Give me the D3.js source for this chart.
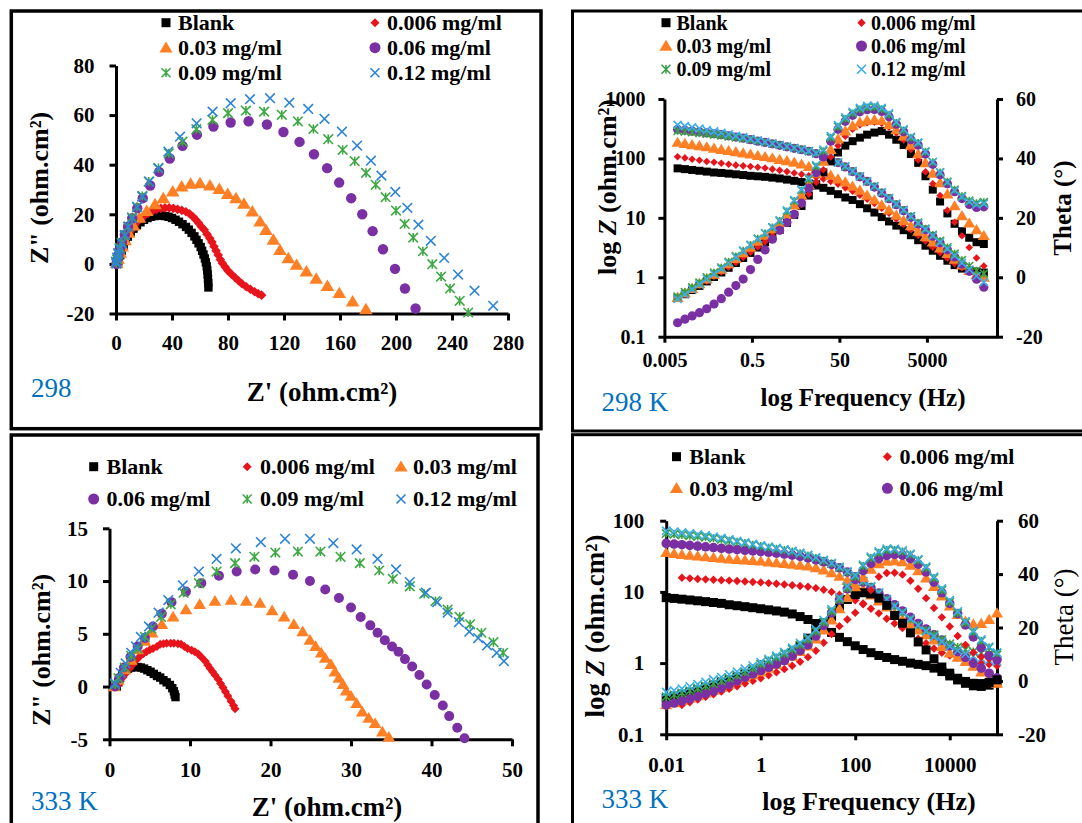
<!DOCTYPE html>
<html>
<head>
<meta charset="utf-8">
<script src="https://cdn.jsdelivr.net/npm/d3@7"></script>
<style>
  html, body { margin: 0; padding: 0; background: #fff; }
  svg { display: block; }
</style>
</head>
<body>
<svg id="fig" width="1082" height="823"></svg>
<script>
// ---------- Series labels ----------
const seriesLabels = ["Blank", "0.006 mg/ml", "0.03 mg/ml", "0.06 mg/ml", "0.09 mg/ml", "0.12 mg/ml"];

// ---------- Nyquist, 298 K : [Z', Z''] ----------
const nyq298Blank = [[1.5,0],[2,1.5],[3,3.5],[4,5.3],[5.5,7.5],[7,9.3],[8.5,11],[10.5,12.7],[12.5,14.2],[15,15.6],[17.5,16.8],[20,17.8],[22.5,18.5],[25,19],[27.5,19.3],[30,19.5],[32.5,19.5],[35,19.3],[37.5,19],[40,18.5],[42.5,17.8],[45,17],[47.5,16],[50,14.9],[52,13.8],[54,12.5],[56,11.1],[57.5,9.7],[59,8.3],[60.5,6.8],[61.5,5.3],[62.5,3.8],[63.5,2.2],[64.2,0.6],[64.8,-1],[65.2,-2.6],[65.5,-4.3],[65.7,-6],[65.9,-7.8],[66,-9.5]];
const nyq298Inh006 = [[1,0.5],[1.5,2],[2.2,3.8],[3,5.5],[4,7],[5,8.5],[6.5,10.2],[8,11.5],[9.5,12.6],[11.5,14],[13.5,15.7],[15.5,17.1],[18,18.3],[20.5,19.5],[23,20.4],[26,21.3],[29,22],[32,22.4],[35,22.6],[38,22.6],[41,22.4],[44,22],[47,21.6],[50,21],[52.5,20.2],[55,19],[57,17.8],[59,16.5],[61,15],[63,13.8],[65,12],[67,10.3],[68.5,8.8],[70,7],[71.5,5.3],[73,3.6],[74.5,1.8],[76,0.3],[78,-1.3],[80,-2.8],[82.5,-4.2],[85,-5.5],[87.5,-6.8],[90,-8],[93,-9.2],[96,-10.2],[99,-11.2],[101.5,-12],[104,-12.6]];
const nyq298Inh03 = [[0.5,0.2],[1.5,2],[3,4.5],[4.5,7],[6.5,9.5],[9,12.5],[12.4,15.5],[16.7,18.6],[21.9,21.3],[27.9,24],[33.8,26.5],[40.5,29.2],[46.9,31.2],[53.3,32.3],[60,32.5],[67.1,31.6],[73.8,30.2],[79.8,28.2],[85.7,26.5],[91.4,24.2],[97.4,21.1],[102.9,17.1],[107.1,13.7],[112.4,9.7],[117.1,5.6],[123.1,2.3],[129,-0.4],[136,-3.1],[143,-6],[151,-8.9],[159.5,-11.8],[169,-15.2],[178.5,-18.3]];
const nyq298Inh06 = [[0.3,0],[0.8,1.5],[1.6,3.5],[2.8,6],[4.3,8.8],[6.3,11.8],[8.6,15],[11.6,18.4],[15.2,22.5],[19.1,26.5],[24.4,31.6],[30.8,37.1],[38.4,42.5],[47.5,47.6],[57.8,52.1],[69.6,55.4],[81.9,57],[94.7,57.5],[107.8,56.2],[119.6,53.2],[131.1,49.2],[141.4,44.2],[150.8,38.6],[159.4,32.8],[168,26.5],[175.9,20],[183.3,13.2],[190.7,5.9],[199.3,-2],[206.4,-9.9],[214,-18]];
const nyq298Inh09 = [[0.3,0.3],[0.8,1.8],[1.6,4],[2.8,6.5],[4.1,8.5],[6.2,11.5],[8.6,15],[11.4,18.8],[15,23],[18.8,27.4],[23.4,33.2],[30.3,38.6],[37.7,44.6],[47.5,49.3],[57.4,54.3],[68.9,58.1],[80,60.8],[92.8,61.8],[105.8,61.4],[118.4,60.1],[129.9,57.5],[141,54.4],[151.6,50.3],[161.9,46],[170.5,41.4],[178.6,36.7],[185.5,31.9],[192.6,26.9],[200,21.5],[206.2,16.1],[212.3,10.6],[219.2,5.1],[225.9,-0.1],[232.2,-5.1],[238.6,-9.9],[245.5,-14.9],[251.6,-19.6]];
const nyq298Inh12 = [[0.3,0.2],[0,0.9],[0.8,2.5],[1.6,4.3],[2.5,6],[4.1,8.3],[6.4,11.7],[8.8,15],[11.6,18.4],[15.2,22.9],[18.8,27.1],[23.8,33.2],[30.2,38.6],[37.4,45.3],[45.7,51.3],[57.6,56.7],[69,61.4],[81.9,64.8],[95.7,66.4],[110,66.8],[123.8,65],[137.3,62.5],[148.9,58.5],[161.4,53.3],[172.2,47.7],[182.1,41.6],[189.6,35.6],[199.5,29],[208.1,22.6],[216,15.8],[224.9,9.3],[234.4,2.4],[244.3,-4.3],[256.1,-10.8],[269.4,-16.9]];

// ---------- Nyquist, 333 K : [Z', Z''] ----------
const nyq333Blank = [[0.9,0],[1.1,0.4],[1.3,0.8],[1.6,1.2],[1.9,1.5],[2.3,1.7],[2.7,1.8],[3.1,1.85],[3.5,1.85],[3.9,1.8],[4.3,1.7],[4.7,1.55],[5.1,1.4],[5.5,1.2],[5.9,1.0],[6.3,0.85],[6.7,0.6],[7.1,0.4],[7.5,0.15],[7.8,-0.15],[8.0,-0.45],[8.1,-0.75],[8.2,-1.0]];
const nyq333Inh006 = [[1.0,0.1],[1.3,0.5],[1.7,0.9],[2.1,1.3],[2.5,1.7],[2.9,2.1],[3.3,2.5],[3.7,2.8],[4.2,3.1],[4.6,3.3],[5.0,3.5],[5.4,3.6],[5.9,3.8],[6.3,4.0],[6.7,4.05],[7.1,4.1],[7.6,4.1],[8.0,4.1],[8.5,4.05],[8.9,4.0],[9.3,3.8],[9.7,3.6],[10.2,3.45],[10.6,3.3],[11.0,3.1],[11.4,2.8],[11.9,2.4],[12.2,2.05],[12.5,1.7],[12.8,1.4],[13.1,1.1],[13.5,0.7],[13.8,0.3],[14.1,-0.1],[14.4,-0.5],[14.7,-0.9],[15.1,-1.4],[15.4,-1.8],[15.6,-2.1]];
const nyq333Inh03 = [[0.6,0],[1.1,0.6],[1.9,1.6],[2.7,2.5],[3.5,3.5],[4.4,4.3],[5.3,5.1],[6.5,5.9],[7.9,6.6],[9.5,7.3],[11.2,7.8],[13.1,8.1],[15.1,8.2],[17.0,8.1],[18.7,7.9],[20.2,7.2],[21.7,6.6],[22.9,5.9],[24.0,5.2],[24.9,4.4],[25.6,3.8],[26.3,3.2],[26.8,2.7],[27.5,2.1],[28.0,1.4],[28.5,0.8],[29.0,0.2],[29.4,-0.4],[30.0,-0.9],[30.7,-1.6],[31.4,-2.4],[32.2,-3.0],[33.0,-3.5],[33.9,-4.3],[34.7,-4.8]];
const nyq333Inh06 = [[0.7,0],[1.2,0.8],[1.8,1.8],[2.6,2.8],[3.5,3.8],[4.4,4.6],[5.4,5.7],[6.5,6.9],[7.7,8.0],[9.5,9.0],[11.4,9.8],[13.6,10.5],[15.8,10.9],[18.1,11.1],[20.5,11.0],[22.8,10.6],[24.9,10.0],[26.8,9.2],[28.5,8.4],[30.0,7.5],[31.2,6.6],[32.4,5.8],[33.3,5.1],[34.2,4.4],[35.1,3.8],[35.9,3.3],[36.7,2.6],[37.6,1.9],[38.5,1.1],[39.4,0.2],[40.4,-0.8],[41.4,-1.8],[42.2,-2.8],[43.2,-3.9],[44.1,-4.9]];
const nyq333Inh09 = [[0.7,0.2],[1.1,0.8],[1.9,1.8],[2.7,2.9],[3.5,3.6],[4.4,4.7],[5.2,5.5],[6.4,6.6],[7.6,7.8],[9.2,8.9],[11.1,9.8],[13.3,10.9],[15.6,11.7],[18.0,12.3],[20.6,12.7],[23.4,12.8],[26.2,12.8],[28.7,12.3],[31.1,11.7],[33.5,11.0],[35.2,10.2],[37.3,9.5],[39.1,8.8],[40.5,8.1],[42.0,7.3],[43.5,6.6],[44.8,5.9],[46.2,5.1],[47.7,4.2],[48.9,3.2]];
const nyq333Inh12 = [[0.7,0.3],[1.4,1.3],[2.0,2.2],[2.7,3.2],[3.3,3.8],[3.9,4.7],[4.9,5.7],[6.1,7.0],[7.3,8.2],[9.1,9.6],[11.1,10.9],[13.3,12.1],[15.7,13.1],[18.8,13.7],[21.8,14.0],[24.9,14.0],[27.8,13.6],[30.7,13.0],[33.3,12.1],[35.6,11.1],[37.3,9.9],[39.3,8.9],[40.7,8.0],[42.0,7.0],[43.4,6.1],[44.7,5.2],[45.8,4.6],[46.9,3.9],[48.1,3.2],[49.0,2.4]];

// ---------- Bode: measurement frequencies (Hz) ----------
const freqHz = [0.01,0.0147,0.0215,0.0316,0.0464,0.0681,0.1,0.147,0.215,0.316,0.464,0.681,1,1.47,2.15,3.16,4.64,6.81,10,14.7,21.5,31.6,46.4,68.1,100,147,215,316,464,681,1000,1470,2150,3160,4640,6810,10000,14700,21500,31600,46400,68100,100000];

// ---------- Bode 298 K : |Z| (ohm.cm2) ----------
const z298Blank  = [68,66,64,62,60,58,57,55.5,54,52.5,51,50,49,47.5,46,44,42,40,38,35,32,28.5,25,22,20,17,14.5,12.3,10.3,8.7,7.4,6.2,5.1,4.2,3.4,2.8,2.3,1.9,1.6,1.4,1.3,1.25,1.2];
const z298Inh006 = [107,102,97,93,89,86,83,80,77,75,73,71,69,66,63,60,57,54,51,48,45,41,37,32,28,24,20.5,17.5,14.5,12,9.6,7.8,6.3,5.1,4.1,3.2,2.6,2.1,1.7,1.45,1.25,1.1,1.0];
const z298Inh03  = [186,178,170,163,156,148,141,135,129,123,118,112,107,102,96,91,86,80,73,66,59,52,45,40,34,29,24,20,16.5,13.5,11,9,7.3,5.9,4.8,3.9,3.1,2.5,2.0,1.6,1.3,1.1,1.0];
const z298Inh06  = [309,299,288,279,269,260,251,240,229,219,207,195,186,176,166,157,148,140,132,120,110,98,85,72,60,49,41,33,26,21,16.6,13.2,10.2,7.9,6.3,4.9,3.8,2.9,2.2,1.66,1.26,0.93,0.68];
const z298Inh09  = [290,284,276,268,260,252,244,235,226,217,207,197,187,177,168,159,150,141,133,122,111,99,86,73,61,50,41,34,27,21.5,17.2,13.7,10.7,8.3,6.6,5.2,4.1,3.2,2.5,1.95,1.55,1.3,1.15];
const z298Inh12  = [366,350,333,317,300,285,270,255,240,228,214,201,189,178,168,159,150,141,133,122,111,99,86,73,61,50,41,34,27,21.5,17,13.5,10.5,8.1,6.4,5.0,3.9,3.0,2.3,1.75,1.35,1.05,0.83];

// ---------- Bode 298 K : phase angle (deg) ----------
const t298Blank  = [-7,-5.7,-4.3,-2.9,-1.4,0.1,1.6,3.2,4.8,6.5,8.2,10,11.8,13.8,15.9,18.3,21,24,27.5,31.3,35.3,39,42,44.3,45.8,47,48,48.7,49.2,48,46.3,44.5,41.5,38.5,34,29.5,25.5,21.5,18,15.5,13.3,11.8,11.2];
const t298Inh006 = [-6.8,-5.5,-4.1,-2.7,-1.2,0.3,1.8,3.4,5.0,6.7,8.4,10.2,12,14,16.2,18.6,21.3,24.5,28,32,36.2,40.5,44.3,47.5,49.8,51.3,52,52.2,51.8,50.5,48.6,46.2,43,39.5,35.5,31.5,27.5,22.5,18.5,14,10,6.5,3.8];
const t298Inh03  = [-6.8,-5.3,-3.8,-2.2,-0.6,1.0,2.7,4.5,6.3,8.2,10.1,12.1,14.1,16.2,18.4,21.2,24.3,27.6,31.2,35,39,43,46.5,49.2,51,52.2,52.8,53,52.7,51.4,49.6,47.5,44.5,41.5,38.5,35,31.8,28,24,20.7,18.2,16,14];
const t298Inh06  = [-15.3,-14.1,-13,-11.9,-10.6,-9,-7.2,-5,-2.8,-0.6,2.6,6,9.2,12.8,15.8,18.4,21.2,25,30,35.2,40.5,45.8,49.8,52.5,54.5,55.7,56.4,56.5,55.8,54,51.5,49,46.3,44.5,41.5,38,34.5,31.5,28.8,26.5,24.5,23.5,23.7];
const t298Inh09  = [-6.5,-5,-3.4,-1.8,0,1.6,3.3,5.2,7.1,9.0,10.9,13,14.8,16.8,19,22.2,25.7,29.3,33,37.3,42.5,47,50.7,53.3,55.2,56.5,57.2,57.3,56.6,54.8,52,49.5,47,45.3,42.3,38.8,35.3,32.2,29.5,27.3,25.8,25,25.3];
const t298Inh12  = [-7.3,-5.8,-4.1,-2.4,-0.6,1.1,2.9,4.8,6.8,8.8,10.8,12.9,14.8,16.9,19.2,22.5,26,29.6,33.4,37.8,43,47.5,51.2,53.8,55.7,57,57.7,57.8,57,55.2,52.3,49.8,47.3,45.3,42.3,38.8,35.3,32,29.2,27,25.4,24.5,24.8];

// ---------- Bode 333 K : |Z| (ohm.cm2) ----------
const z333Blank  = [8.3,8.1,7.9,7.7,7.5,7.3,7.1,6.9,6.6,6.4,6.2,6.0,5.8,5.6,5.4,5.2,4.9,4.5,4.1,3.6,3.1,2.7,2.3,2.0,1.75,1.55,1.4,1.28,1.2,1.12,1.06,1.0,0.96,0.92,0.85,0.76,0.66,0.58,0.52,0.48,0.47,0.49,0.53];
const z333Inh006 = [null,null,15.8,15.5,15.2,15,14.8,14.6,14.4,14.2,14,13.8,13.6,13.3,13,12.7,12.4,12.1,11.8,11.3,10.7,10,9.1,8.3,7.6,6.7,5.8,5,4.2,3.6,3.1,2.6,2.2,1.9,1.6,1.4,1.28,1.2,1.12,1.06,1.0,0.96,0.92];
const z333Inh03  = [35.5,34.5,33.5,32.6,31.8,31,30.3,29.6,29,28.5,28,27.5,27,26.3,25.6,25,24.3,23.6,23,21.8,20.3,18.5,16.5,14.5,12.7,10.8,9,7.4,6.1,5,4.1,3.5,2.9,2.5,2.1,1.7,1.38,1.2,1.05,0.9,0.75,0.62,0.52];
const z333Inh06  = [48,47,46,45,44,43,42,41,40,39.2,38.4,37.6,36.8,36,35,34,32.8,31.5,30,28.3,26.5,24.3,21.8,19,16.3,13.7,11.5,9.6,8,6.6,5.4,4.4,3.6,3.0,2.5,2.1,1.75,1.45,1.2,1.0,0.85,0.72,0.62];
const z333Inh09  = [66,64.5,63,61.5,60,58.5,56.5,54.5,52.5,50.5,48.5,46,44,42.2,40.5,38.8,37,34.8,32.5,30,27.5,25,22,19,16.5,14,11.8,9.6,7.8,6.3,5.1,4.1,3.4,2.9,2.5,2.15,1.87,1.68,1.55,1.45,1.38,1.33,1.3];
const z333Inh12  = [72,70,68,66,64,62,59.5,57,54.5,52,49.5,47,45,43,41.2,39.4,37.5,35.3,33,30.5,28,25.3,22.3,19.3,16.8,14.2,12,9.8,7.9,6.4,5.2,4.2,3.4,2.8,2.35,2.0,1.72,1.5,1.35,1.25,1.17,1.1,1.05];

// ---------- Bode 333 K : phase angle (deg) ----------
const t333Blank  = [-6.5,-5.8,-5,-4.2,-3.3,-2.4,-1.5,-0.5,0.5,1.5,2.6,3.7,4.8,5.8,6.9,8.5,10.5,13,16,19,21.8,24.1,27.5,30.5,32.3,33,32.6,31,28.3,24.5,21.6,18,14.6,11.6,8.3,5.2,2.9,1.0,-0.2,-0.9,-1.0,-0.6,0.4];
const t333Inh006 = [null,null,-9,-8,-7,-6,-5,-4,-3,-2,-1,0,1,2.1,3.2,4.4,5.7,7.2,8.9,11.3,14.3,17.5,20.5,23,25.5,29,34,39,40.4,40.5,39.8,37.5,34.5,31,27.3,23.8,20.4,16.8,13.5,10.6,9,8.3,7.9];
const t333Inh03  = [-9,-8.2,-7.4,-6.5,-5.6,-4.6,-3.5,-2.4,-1.2,0,1.2,2.3,3.4,4.7,6.1,7.6,9.2,11,13,15.7,19,22.8,27,31.2,35.2,38.8,41.8,43.8,44.8,45,44.6,43.3,41.2,38.5,35.3,31.8,28,24.8,22.3,21.3,21.5,23,25.4];
const t333Inh06  = [-9,-8.3,-7.5,-6.7,-5.8,-4.8,-3.8,-2.6,-1.3,0,1.3,2.6,3.9,5.1,6.3,7.6,9.3,11.3,13.5,16.8,20.8,25.5,30.3,34.5,38,41.3,44,45.8,47,47.4,47.1,45.8,43.7,40.8,37,33,29,25.2,21,16.5,12.5,9.5,7.9];
const t333Inh09  = [-5.9,-5.2,-4.5,-3.7,-2.8,-1.9,-1.0,0,1.0,2.1,3.3,4.7,6.3,7.6,8.8,10.2,11.8,13.5,15.5,18.5,22,26,30.5,34.8,39,43,46,48,49,49,48.5,47.3,45.2,42.3,38.5,34,29.5,25.4,21.8,18.3,15,12.5,10.4];
const t333Inh12  = [-4.2,-3.6,-2.9,-2.1,-1.3,-0.4,0.5,1.4,2.4,3.4,4.5,5.7,7.0,8.2,9.4,10.8,12.4,14.2,16.3,19.3,22.8,26.8,31.2,35.5,39.6,43.5,46.5,48.5,49.5,49.4,48.8,47.6,45.6,42.8,39,34.6,30.2,26,22.3,18.8,15.5,12.8,10.6];

// ---------- Axis ticks ----------
const nyq298XTicks = [0, 40, 80, 120, 160, 200, 240, 280];
const nyq298YTicks = [-20, 0, 20, 40, 60, 80];
const nyq333XTicks = [0, 10, 20, 30, 40, 50];
const nyq333YTicks = [-5, 0, 5, 10, 15];
const bode298FTicks = [0.005, 0.5, 50, 5000];
const bode333FTicks = [0.01, 1, 100, 10000];
const bode298ZTicks = [0.1, 1, 10, 100, 1000];
const bode333ZTicks = [0.1, 1, 10, 100];
const thetaTicks = [-20, 0, 20, 40, 60];

// ---------- Drawing ----------
const FONT = "'Liberation Serif', 'Times New Roman', serif";
const BLUE_LABEL = "#0070C0";
const shapes = ["square", "diamond", "triangle", "circle", "asterisk", "cross"];
const nyqColors  = ["#000000", "#E8141B", "#FF8024", "#7A2FA3", "#3FA845", "#2D84D6"];
const bodeColors = ["#000000", "#E8141B", "#FF8024", "#7A2FA3", "#3C9E45", "#3AAEEA"];

const svg = d3.select("#fig");

function markerPath(shape, s) {
  switch (shape) {
    case "square":   return `M${-s},${-s}H${s}V${s}H${-s}Z`;
    case "diamond":  return `M0,${-s}L${s},0L0,${s}L${-s},0Z`;
    case "triangle": return `M0,${-s * 1.05}L${s * 1.1},${s * 0.8}L${-s * 1.1},${s * 0.8}Z`;
    case "circle":   return d3.symbol(d3.symbolCircle, Math.PI * s * s)();
    case "asterisk": return `M${-s},${-s}L${s},${s}M${-s},${s}L${s},${-s}M0,${-s * 0.95}V${s * 0.95}`;
    case "cross":    return `M${-s},${-s}L${s},${s}M${-s},${s}L${s},${-s}`;
  }
}
function styleMarker(sel, shape, color) {
  if (shape === "asterisk" || shape === "cross") {
    sel.attr("fill", "none").attr("stroke", color).attr("stroke-width", 1.6);
  } else {
    sel.attr("fill", color).attr("stroke", "none");
  }
}
function drawMarkers(g, pts, i, size, colors) {
  const sel = g.append("g").selectAll("path").data(pts).join("path")
    .attr("transform", d => `translate(${d[0]},${d[1]})`)
    .attr("d", markerPath(shapes[i], size));
  styleMarker(sel, shapes[i], colors[i]);
}
function styleAxis(sel, size) {
  sel.attr("font-family", FONT).attr("font-size", size).attr("font-weight", "bold");
  sel.select(".domain").attr("stroke", "#000").attr("stroke-width", 3);
  sel.selectAll(".tick line").attr("stroke", "#000").attr("stroke-width", 3);
  sel.selectAll(".tick text").attr("fill", "#000");
}
function legend(g, entries, sizes, colors, fontSize) {
  entries.forEach(e => {
    const m = g.append("path")
      .attr("transform", `translate(${e.mx},${e.cy})`)
      .attr("d", markerPath(shapes[e.i], sizes[e.i]));
    styleMarker(m, shapes[e.i], colors[e.i]);
    g.append("text").attr("x", e.tx).attr("y", e.cy + fontSize * 0.34)
      .attr("font-family", FONT).attr("font-size", fontSize).attr("font-weight", "bold")
      .text(seriesLabels[e.i]);
  });
}
function plainText(g, x, y, str, size, opts = {}) {
  return g.append("text").attr("x", x).attr("y", y)
    .attr("font-family", FONT).attr("font-size", size)
    .attr("font-weight", opts.weight || "bold")
    .attr("text-anchor", opts.anchor || "start")
    .attr("fill", opts.fill || "#000")
    .text(str);
}
function rotatedTitle(g, x, cy, parts, size, weight) {
  const t = g.append("text")
    .attr("transform", `translate(${x},${cy}) rotate(-90)`)
    .attr("text-anchor", "middle")
    .attr("font-family", FONT).attr("font-size", size).attr("font-weight", weight);
  parts.forEach(p => t.append("tspan").attr("font-style", p.italic ? "italic" : "normal").text(p.s));
  return t;
}

// Panel frames
svg.append("rect").attr("x", 11.3).attr("y", 11).attr("width", 529.7).attr("height", 417.7)
  .attr("fill", "none").attr("stroke", "#000").attr("stroke-width", 3.5);
svg.append("rect").attr("x", 11.3).attr("y", 435).attr("width", 526.7).attr("height", 420)
  .attr("fill", "none").attr("stroke", "#000").attr("stroke-width", 3.5);
svg.append("rect").attr("x", 572.5).attr("y", 11).attr("width", 540).attr("height", 420)
  .attr("fill", "none").attr("stroke", "#000").attr("stroke-width", 3);
svg.append("rect").attr("x", 572.5).attr("y", 434.7).attr("width", 540).attr("height", 420)
  .attr("fill", "none").attr("stroke", "#000").attr("stroke-width", 3);

// ---- Nyquist panel ----
function nyquist(cfg) {
  const g = svg.append("g");
  const x = d3.scaleLinear().domain(cfg.xDomain).range(cfg.xRange);
  const y = d3.scaleLinear().domain(cfg.yDomain).range(cfg.yRange);
  g.append("g").attr("transform", `translate(0,${cfg.yRange[0]})`)
    .call(d3.axisBottom(x).tickValues(cfg.xTicks).tickSize(7).tickSizeOuter(0)
      .tickPadding(cfg.xPad).tickFormat(d => String(d)))
    .call(s => styleAxis(s, 21));
  g.append("g").attr("transform", `translate(${cfg.xRange[0]},0)`)
    .call(d3.axisLeft(y).tickValues(cfg.yTicks).tickSize(6.5).tickSizeOuter(0)
      .tickPadding(cfg.yPad).tickFormat(d => String(d)))
    .call(s => styleAxis(s, 21));
  cfg.series.forEach((pts, i) =>
    drawMarkers(g, pts.map(p => [x(p[0]), y(p[1])]), i, cfg.sizes[i], nyqColors));
  legend(g, cfg.legend, cfg.legendSizes, nyqColors, 22);
  rotatedTitle(g, cfg.yTitle[0], cfg.yTitle[1], [{ s: 'Z" (ohm.cm²)' }], 26, "bold");
  plainText(g, cfg.xTitle[0], cfg.xTitle[1], "Z' (ohm.cm²)", 27, { anchor: "middle" });
  plainText(g, cfg.tempLabel[0], cfg.tempLabel[1], cfg.tempText, cfg.tempSize, { weight: "normal", fill: BLUE_LABEL });
}

// ---- Bode panel ----
function bode(cfg) {
  const g = svg.append("g");
  const x = d3.scaleLog().domain(cfg.xDomain).range(cfg.xRange);
  const yZ = d3.scaleLog().domain(cfg.zDomain).range(cfg.yRange);
  const yT = d3.scaleLinear().domain([-20, 60]).range(cfg.yRange);
  g.append("g").attr("transform", `translate(0,${cfg.yRange[0]})`)
    .call(d3.axisBottom(x).tickValues(cfg.fTicks).tickSize(6).tickSizeOuter(0)
      .tickPadding(cfg.xPad).tickFormat(d => String(d)))
    .call(s => styleAxis(s, cfg.tickFont));
  g.append("g").attr("transform", `translate(${cfg.xRange[0]},0)`)
    .call(d3.axisLeft(yZ).tickValues(cfg.zTicks).tickSize(6).tickSizeOuter(0)
      .tickPadding(cfg.yPad).tickFormat(d => String(d)))
    .call(s => styleAxis(s, cfg.tickFont));
  g.append("g").attr("transform", `translate(${cfg.xRange[1]},0)`)
    .call(d3.axisRight(yT).tickValues(thetaTicks).tickSize(6).tickSizeOuter(0)
      .tickPadding(cfg.rPad).tickFormat(d => String(d)))
    .call(s => styleAxis(s, cfg.tickFont));
  const toPts = (vals, ys) => freqHz.map((f, j) => vals[j] == null ? null : [x(f), ys(vals[j])]).filter(Boolean);
  cfg.zSeries.forEach((vals, i) => drawMarkers(g, toPts(vals, yZ), i, cfg.sizes[i], bodeColors));
  cfg.tSeries.forEach((vals, i) => drawMarkers(g, toPts(vals, yT), i, cfg.sizes[i], bodeColors));
  legend(g, cfg.legend, cfg.legendSizes, bodeColors, cfg.legendFont);
  rotatedTitle(g, cfg.yTitle[0], cfg.yTitle[1],
    [{ s: "log " }, { s: "Z", italic: true }, { s: " (ohm.cm²)" }], cfg.yTitleSize, "bold");
  rotatedTitle(g, cfg.rTitle[0], cfg.rTitle[1], [{ s: "Theta (°)" }], cfg.rTitleSize, cfg.rTitleWeight);
  plainText(g, cfg.xTitle[0], cfg.xTitle[1], "log Frequency (Hz)", cfg.xTitleSize, { anchor: "middle" });
  plainText(g, cfg.tempLabel[0], cfg.tempLabel[1], cfg.tempText, 27, { weight: "normal", fill: BLUE_LABEL });
}

// Top-left: Nyquist 298 K
nyquist({
  xDomain: [0, 280], xRange: [116, 508],
  yDomain: [-20, 80], yRange: [313.5, 65.5],
  xTicks: nyq298XTicks, yTicks: nyq298YTicks, xPad: 15, yPad: 15,
  series: [nyq298Blank, nyq298Inh006, nyq298Inh03, nyq298Inh06, nyq298Inh09, nyq298Inh12],
  sizes: [4.2, 4.8, 6.2, 5.2, 4.8, 4.8],
  legendSizes: [4.5, 4.5, 6, 5.5, 4.5, 4.5],
  legend: [
    { i: 0, mx: 166, cy: 22.7, tx: 178 }, { i: 1, mx: 375, cy: 22.7, tx: 387 },
    { i: 2, mx: 166, cy: 47.7, tx: 178 }, { i: 3, mx: 375, cy: 47.7, tx: 387 },
    { i: 4, mx: 166, cy: 72.7, tx: 178 }, { i: 5, mx: 375, cy: 72.7, tx: 387 }
  ],
  yTitle: [48, 188], xTitle: [322, 401],
  tempLabel: [31, 397], tempText: "298", tempSize: 27
});

// Bottom-left: Nyquist 333 K
nyquist({
  xDomain: [0, 50], xRange: [109.5, 512],
  yDomain: [-5, 15], yRange: [739.3, 528.3],
  xTicks: nyq333XTicks, yTicks: nyq333YTicks, xPad: 16, yPad: 15,
  series: [nyq333Blank, nyq333Inh006, nyq333Inh03, nyq333Inh06, nyq333Inh09, nyq333Inh12],
  sizes: [4.2, 4.5, 5.8, 5, 4.8, 4.8],
  legendSizes: [4.5, 4.5, 6, 5.5, 4.5, 4.5],
  legend: [
    { i: 0, mx: 93.7, cy: 466.7, tx: 106.5 }, { i: 1, mx: 247.2, cy: 466.7, tx: 260 }, { i: 2, mx: 401, cy: 466.7, tx: 413 },
    { i: 3, mx: 93.7, cy: 499, tx: 106.5 }, { i: 4, mx: 247.2, cy: 499, tx: 260 }, { i: 5, mx: 401, cy: 499, tx: 413 }
  ],
  yTitle: [50, 650], xTitle: [327, 816],
  tempLabel: [31, 810], tempText: "333 K", tempSize: 27
});

// Top-right: Bode 298 K
bode({
  xDomain: [0.005, 200000], xRange: [664.4, 997],
  zDomain: [0.1, 1000], yRange: [336.7, 99],
  fTicks: bode298FTicks, zTicks: bode298ZTicks, xPad: 10, yPad: 13, rPad: 13, tickFont: 20,
  zSeries: [z298Blank, z298Inh006, z298Inh03, z298Inh06, z298Inh09, z298Inh12],
  tSeries: [t298Blank, t298Inh006, t298Inh03, t298Inh06, t298Inh09, t298Inh12],
  sizes: [4, 3.8, 5.5, 4.6, 4, 4],
  legendSizes: [4.5, 4.2, 6, 5.5, 4.5, 4.5], legendFont: 20,
  legend: [
    { i: 0, mx: 666, cy: 22.7, tx: 676.5 }, { i: 1, mx: 861.5, cy: 22.7, tx: 871 },
    { i: 2, mx: 666, cy: 46, tx: 676.5 }, { i: 3, mx: 861.5, cy: 46, tx: 871 },
    { i: 4, mx: 666, cy: 69.3, tx: 676.5 }, { i: 5, mx: 861.5, cy: 69.3, tx: 871 }
  ],
  yTitle: [616, 187], yTitleSize: 26,
  rTitle: [1071, 208], rTitleSize: 25, rTitleWeight: "bold",
  xTitle: [863, 406], xTitleSize: 25,
  tempLabel: [601.5, 411], tempText: "298 K"
});

// Bottom-right: Bode 333 K
bode({
  xDomain: [0.01, 100000], xRange: [666.2, 997],
  zDomain: [0.1, 100], yRange: [734.3, 520.7],
  fTicks: bode333FTicks, zTicks: bode333ZTicks, xPad: 17, yPad: 16, rPad: 15, tickFont: 21,
  zSeries: [z333Blank, z333Inh006, z333Inh03, z333Inh06, z333Inh09, z333Inh12],
  tSeries: [t333Blank, t333Inh006, t333Inh03, t333Inh06, t333Inh09, t333Inh12],
  sizes: [4.5, 4.2, 5.5, 4.8, 4.2, 4.2],
  legendSizes: [4.5, 4.5, 6, 5.5, 4.5, 4.5], legendFont: 22,
  legend: [
    { i: 0, mx: 676.5, cy: 456.7, tx: 689.3 }, { i: 1, mx: 887.4, cy: 456.7, tx: 899.5 },
    { i: 2, mx: 676.5, cy: 488.3, tx: 689.3 }, { i: 3, mx: 887.4, cy: 488.3, tx: 899.5 }
  ],
  yTitle: [604, 626], yTitleSize: 27,
  rTitle: [1073, 617], rTitleSize: 27, rTitleWeight: "normal",
  xTitle: [869, 810], xTitleSize: 26,
  tempLabel: [601.5, 808], tempText: "333 K"
});
</script>
</body>
</html>
